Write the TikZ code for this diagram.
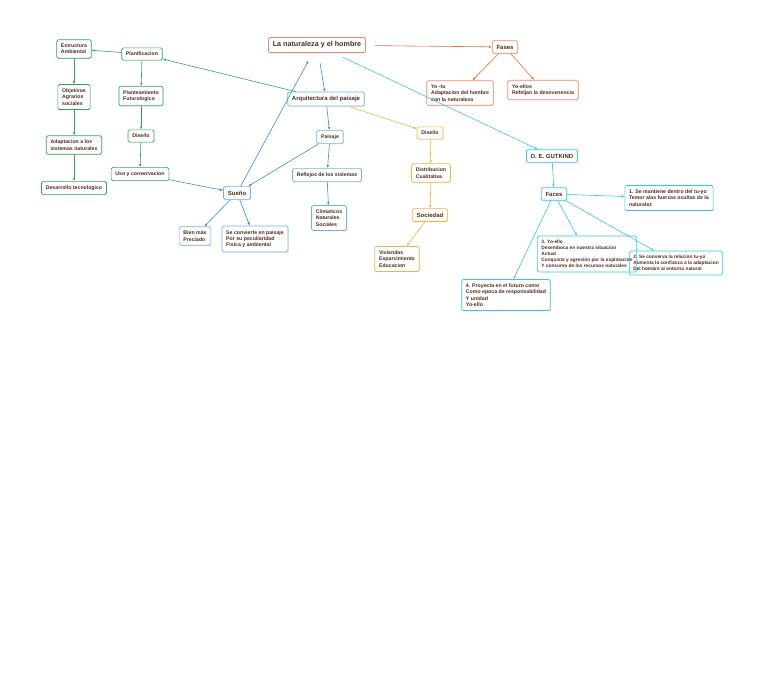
\documentclass[tikz,border=0pt]{standalone}
\usepackage{fontspec}
\setmainfont{Liberation Sans}
\usepackage{tikz}
\usetikzlibrary{positioning}
\usetikzlibrary{arrows.meta}
\usetikzlibrary{shadows}

\definecolor{texto}{HTML}{4B2C20}
\definecolor{verde}{HTML}{35A066}
\definecolor{rojo}{HTML}{EC6A3C}
\definecolor{azul}{HTML}{3A8ED8}
\definecolor{amarillo}{HTML}{F4B43E}
\definecolor{cian}{HTML}{38C6E4}
\definecolor{naranja}{HTML}{E8886A}

\begin{document}
\begin{tikzpicture}[x=1pt, y=-1pt,
    caja/.style={draw, rounded corners=1.5pt, fill=white, line width=0.7pt, align=left,
        inner xsep=4.3pt, inner ysep=4.2pt, text=texto,
        font=\fontsize{5.2}{6.3}\selectfont\bfseries, sombra},
    sombra/.style={drop shadow={shadow xshift=0.5pt, shadow yshift=-0.7pt, opacity=0.18}},
    hueca/.style={draw, rounded corners=1.5pt, line width=0.7pt, align=left,
        inner xsep=4pt, inner ysep=4.2pt, text=texto,
        font=\fontsize{4.8}{6}\selectfont\bfseries},
    gcaja/.style={caja, draw=verde},
    rcaja/.style={caja, draw=rojo!80},
    bcaja/.style={caja, draw=azul!70},
    acaja/.style={caja, draw=amarillo},
    ccaja/.style={caja, draw=cian},
    medio/.style={font=\fontsize{6}{7}\selectfont\bfseries},
    grande/.style={font=\fontsize{7.2}{8}\selectfont\bfseries},
    flecha/.style={-{Latex[length=3pt,width=2.6pt]}, line width=0.6pt},
    gflecha/.style={flecha, verde},
    rflecha/.style={flecha, rojo},
    bflecha/.style={flecha, azul},
    aflecha/.style={flecha, amarillo},
    cflecha/.style={flecha, cian}
]
    \useasboundingbox (0,0) rectangle (768,678);

    \node[gcaja] (estructura) at (74,49) {Estructura\\Ambiental};
    \node[gcaja] (planificacion) at (142,54) {Planificacion};
    \node[gcaja] (objetivos) at (74,97) {Objetivos\\Agrarios\\sociales};
    \node[gcaja] (planteamiento) at (141,96) {Planteamiento\\Futurologico};
    \node[gcaja] (disenoA) at (141,136) {Diseño};
    \node[gcaja] (adaptacion) at (74,145) {Adaptacion a los\\sistemas naturales};
    \node[gcaja] (uso) at (140,174) {Uso y conservacion};
    \node[gcaja] (desarrollo) at (74,188) {Desarrollo tecnologico};

    \node[caja, draw=naranja, grande] (naturaleza) at (317,45) {La naturaleza y el hombre};
    \node[rcaja, medio] (fases) at (505,47) {Fases};
    \node[rcaja] (yotu) at (460,93) {Yo -tu\\Adaptacion del hombre\\con la naturaleza};
    \node[rcaja] (yoellos) at (543,90) {Yo-ellos\\Refeljan la desovenencia};

    \node[bcaja, medio] (arquitectura) at (326,99) {Arquitectura del paisaje};
    \node[bcaja] (paisaje) at (330,137) {Paisaje};
    \node[bcaja] (reflejos) at (327,175) {Reflejos de los sistemas};
    \node[bcaja] (climaticos) at (329,218) {Climaticos\\Naturales\\Sociales};
    \node[bcaja, medio] (sueno) at (237,193) {Sueño};
    \node[bcaja] (bien) at (195,236) {Bien más\\Preciado};
    \node[bcaja] (convierte) at (255,239) {Se convierte en paisaje\\Por su peculiaridad\\Fisica y ambiental};

    \node[acaja] (disenoB) at (430,133) {Diseño};
    \node[acaja] (distribucion) at (431,173) {Distribucion\\Cualitativa};
    \node[acaja, medio] (sociedad) at (430,215) {Sociedad};
    \node[acaja] (viviendas) at (397,259) {Viviendas\\Esparcimiento\\Educacion};

    \node[ccaja, medio] (gutkind) at (552,156) {D. E. GUTKIND};
    \node[ccaja, medio] (faces) at (554,194) {Faces};
    \node[ccaja] (uno) at (669,198) {1. Se mantiene dentro del tu-yo\\Temor alas fuerzas ocultas de la\\naturalez};
    \node[hueca, draw=cian] (dos) at (676,263) {2. Se conserva la relacion tu-yo\\Aumenta la confianza a la adaptacion\\Del hombre al entorno natural};
    \node[hueca, draw=cian] (tres) at (587,254) {3. Yo-ello\\Desemboca en nuestra situacion\\Actual\\Conquista y agresion por la explotacion\\Y consumo de los recursos naturales};
    \node[ccaja] (cuatro) at (506,295) {4. Proyecta en el futuro como\\Como epoca de responsabilidad\\Y unidad\\Yo-ello};

    \draw[gflecha] (planificacion) -- (estructura);
    \draw[gflecha] (planificacion) -- (planteamiento);
    \draw[gflecha] (planteamiento) -- (disenoA);
    \draw[gflecha] (disenoA) -- (uso);
    \draw[gflecha] (estructura) -- (objetivos);
    \draw[gflecha] (objetivos) -- (adaptacion);
    \draw[gflecha] (adaptacion) -- (desarrollo);
    \draw[gflecha] (arquitectura) -- (planificacion);

    \draw[rflecha, shorten <=9pt] (naturaleza) -- (fases);
    \draw[rflecha] (fases) -- (yotu);
    \draw[rflecha] (fases) -- (yoellos);

    \draw[bflecha, shorten <=10pt] (naturaleza) -- (arquitectura);
    \draw[bflecha, shorten >=9pt] (sueno) -- (naturaleza);
    \draw[bflecha] (arquitectura) -- (paisaje);
    \draw[bflecha] (paisaje) -- (reflejos);
    \draw[bflecha] (reflejos) -- (climaticos);
    \draw[bflecha] (paisaje) -- (sueno);
    \draw[bflecha] (uso) -- (sueno);
    \draw[bflecha] (sueno) -- (bien);
    \draw[bflecha] (sueno) -- (convierte);

    \draw[aflecha] (arquitectura) -- (disenoB);
    \draw[aflecha] (disenoB) -- (distribucion);
    \draw[aflecha] (distribucion) -- (sociedad);
    \draw[aflecha] (sociedad) -- (viviendas);

    \draw[cflecha, shorten <=10pt] (naturaleza) -- (gutkind);
    \draw[cflecha] (gutkind) -- (faces);
    \draw[cflecha] (faces) -- (uno);
    \draw[cflecha] (faces) -- (tres);
    \draw[cflecha] (faces) -- (dos);
    \draw[cflecha] (faces) -- (cuatro);
\end{tikzpicture}
\end{document}
